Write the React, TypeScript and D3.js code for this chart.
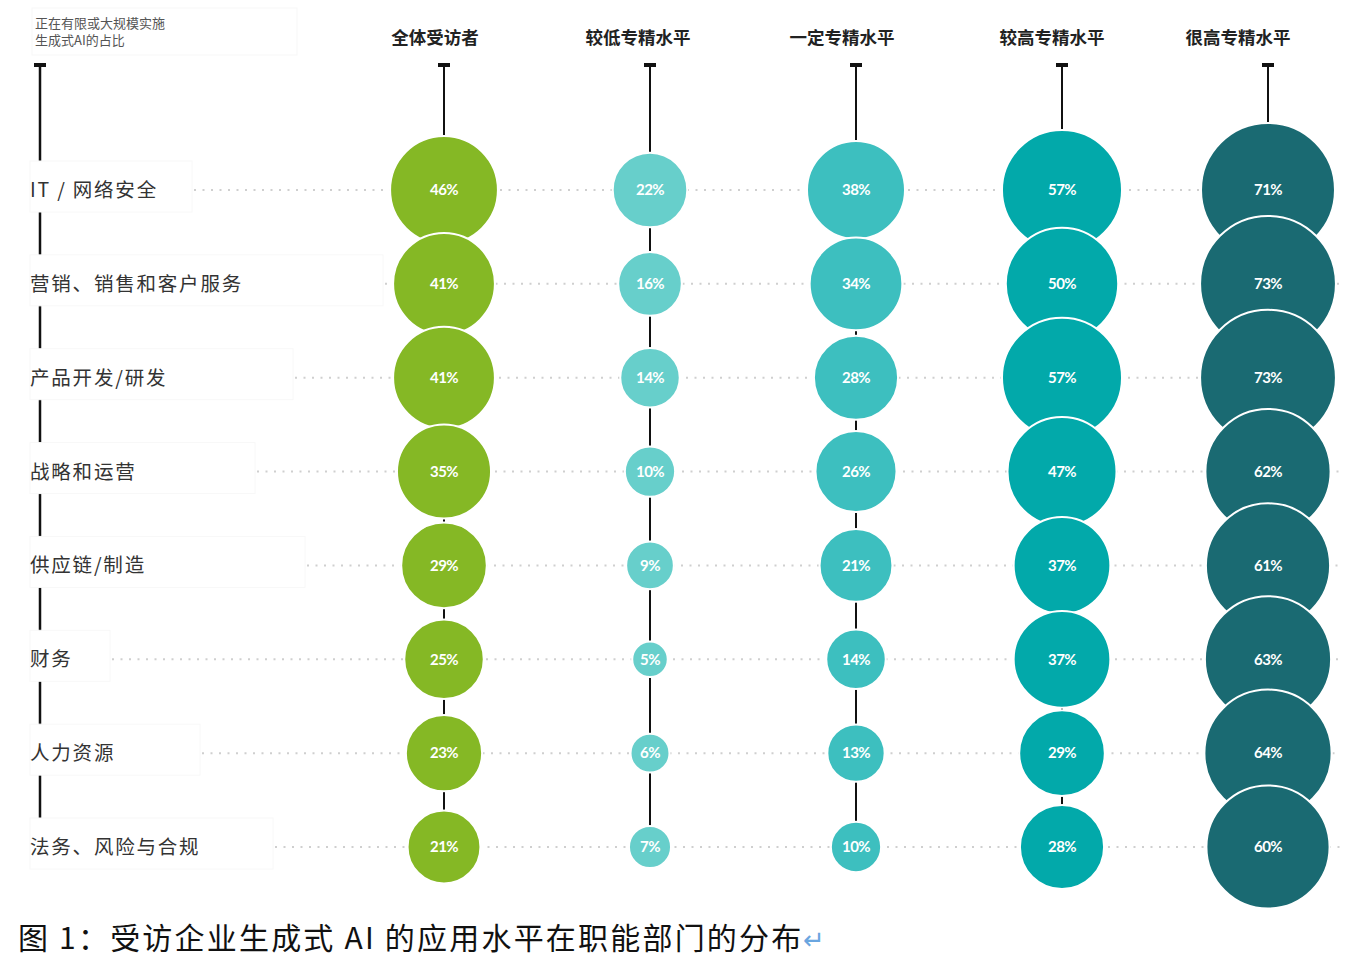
import React from "react";
import * as d3 from "d3";

const categories = [
  "IT / 网络安全",
  "营销、销售和客户服务",
  "产品开发/研发",
  "战略和运营",
  "供应链/制造",
  "财务",
  "人力资源",
  "法务、风险与合规",
];
const groups = ["全体受访者", "较低专精水平", "一定专精水平", "较高专精水平", "很高专精水平"];
const allRespondents = [46, 41, 41, 35, 29, 25, 23, 21];
const lowLevel = [22, 16, 14, 10, 9, 5, 6, 7];
const someLevel = [38, 34, 28, 26, 21, 14, 13, 10];
const highLevel = [57, 50, 57, 47, 37, 37, 29, 28];
const veryHighLevel = [71, 73, 73, 62, 61, 63, 64, 60];
const seriesValues = [allRespondents, lowLevel, someLevel, highLevel, veryHighLevel];

const colors = ["#85B825", "#67CFCB", "#3DBFBF", "#02A9AA", "#1A6A72"];
// layout: right edge of each row-label's white box
const labelBoxEnd = [192, 383, 293, 255, 305, 110, 200, 273];
// layout: horizontal offset of header text from column line
const headerOffset = [-9, -12, -14, -10, -30];

const W = 1348;
const H = 960;

export default function App() {
  const y = d3.scalePoint<string>().domain(categories).range([190, 847]);
  const x = d3.scalePoint<string>().domain(groups).range([444, 1268]);
  const r = d3.scaleSqrt().domain([0, 100]).range([0, 79.5]);
  const capY = 65;
  const axisX = 40;

  return (
    <svg
      width={W}
      height={H}
      viewBox={`0 0 ${W} ${H}`}
      style={{ position: "absolute", left: 0, top: 0, background: "#fff" }}
      fontFamily="'Noto Sans CJK SC', 'Noto Sans', sans-serif"
    >
      <rect x={0} y={0} width={W} height={H} fill="#fff" />

      {/* top-left note */}
      <rect x={32} y={8} width={265} height={47} fill="#fff" stroke="#f7f7f7" />
      <text x={35} y={28} fontSize={13} fill="#555">正在有限或大规模实施</text>
      <text x={35} y={45} fontSize={13} fill="#555">生成式AI的占比</text>

      {/* dotted row lines */}
      {categories.map((c, i) => (
        <line
          key={"dot" + c}
          x1={labelBoxEnd[i] + 2}
          x2={1340}
          y1={y(c)}
          y2={y(c)}
          stroke="#cfcfcf"
          strokeWidth={2}
          strokeDasharray="2 6.5"
        />
      ))}

      {/* left axis */}
      <line x1={axisX} x2={axisX} y1={capY} y2={y(categories[categories.length - 1])} stroke="#111" strokeWidth={2.5} />
      <rect x={axisX - 6} y={capY - 2} width={12} height={4} fill="#111" />

      {/* row labels with white boxes */}
      {categories.map((c, i) => (
        <g key={"lab" + c}>
          <rect
            x={30}
            y={(y(c) as number) - 29}
            width={labelBoxEnd[i] - 30}
            height={51}
            fill="#fff"
            stroke="#f8f8f8"
          />
          <text
            x={30}
            y={(y(c) as number) + 7}
            fontSize={19.5}
            fill="#333"
            letterSpacing={1.8}
          >
            {c}
          </text>
        </g>
      ))}

      {/* column headers, lines, caps */}
      {groups.map((g, gi) => (
        <g key={"col" + g}>
          <text
            x={(x(g) as number) + headerOffset[gi]}
            y={44}
            textAnchor="middle"
            fontSize={17.5}
            fontWeight={700}
            fill="#222"
          >
            {g}
          </text>
          <line
            x1={x(g)}
            x2={x(g)}
            y1={capY}
            y2={y(categories[categories.length - 1])}
            stroke="#111"
            strokeWidth={2}
          />
          <rect x={(x(g) as number) - 6} y={capY - 2} width={12} height={4} fill="#111" />
        </g>
      ))}

      {/* bubbles */}
      {groups.map((g, gi) => (
        <g key={"bub" + g}>
          {categories.map((c, ci) => {
            const v = seriesValues[gi][ci];
            return (
              <g key={c}>
                <circle
                  cx={x(g)}
                  cy={y(c)}
                  r={r(v)}
                  fill={colors[gi]}
                  stroke="#fff"
                  strokeWidth={2}
                />
                <text
                  x={x(g)}
                  y={y(c)}
                  dy="0.35em"
                  textAnchor="middle"
                  fontFamily="Lato, 'Open Sans', sans-serif"
                  fontWeight={700}
                  fontSize={15}
                  letterSpacing={-0.6}
                  fill="#fff"
                >
                  {v}%
                </text>
              </g>
            );
          })}
        </g>
      ))}

      {/* caption */}
      <text x={18} y={949} fontSize={30} fill="#111" letterSpacing={2.2}>
        图 1：受访企业生成式 AI 的应用水平在职能部门的分布
        <tspan fill="#6AA6E0" fontSize={26} letterSpacing={0}>↵</tspan>
      </text>
    </svg>
  );
}
